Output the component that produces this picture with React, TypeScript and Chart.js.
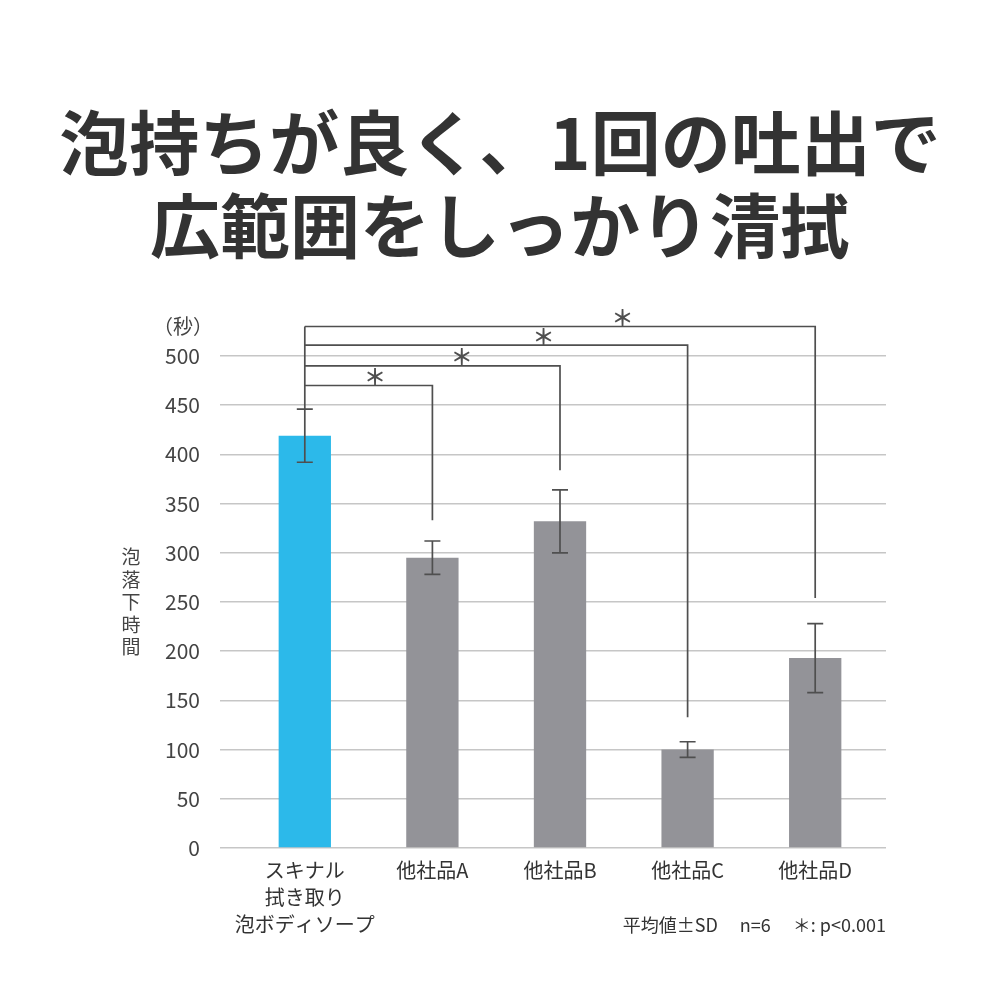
import React, { useEffect, useRef } from 'react';
import { Chart, registerables } from 'chart.js';

Chart.register(...registerables);

// ---- data ----
const categories: (string | string[])[] = [
  ['スキナル', '拭き取り', '泡ボディソープ'],
  '他社品A',
  '他社品B',
  '他社品C',
  '他社品D',
];
const means = [419, 295, 332, 100, 193];
const sds = [27, 17, 32, 8, 35];
const barColors = ['#2cb9ea', '#939398', '#939398', '#939398', '#939398'];
const yMin = 0;
const yMax = 500;
const yStep = 50;

// significance brackets: reference bar 0 vs targets
const compareTargets = [1, 2, 3, 4];
const bracketLevels = [470, 490, 511, 530];
const dropEnds = [333, 384, 133, 254];
const starPositions = [0.55, 1.23, 1.87, 2.49];
const starLabel = '＊';

const titleLines = ['泡持ちが良く、1回の吐出で', '広範囲をしっかり清拭'];
const yAxisTitle = ['泡', '落', '下', '時', '間'];
const unitLabel = '（秒）';
const footnote = '平均値±SD　 n=6　 ＊: p<0.001';

const FONT = '"Noto Sans CJK JP", "Noto Sans", sans-serif';

const annotationPlugin = {
  id: 'annotations',
  afterDatasetsDraw(chart: any) {
    const ctx = chart.ctx;
    const xs = chart.scales.x;
    const ys = chart.scales.y;
    ctx.save();
    ctx.strokeStyle = '#4f4f4f';
    ctx.lineWidth = 1.7;
    ctx.lineCap = 'butt';
    // error bars
    means.forEach((m, i) => {
      const cx = xs.getPixelForValue(i);
      const top = ys.getPixelForValue(m + sds[i]);
      const bot = ys.getPixelForValue(m - sds[i]);
      ctx.beginPath();
      ctx.moveTo(cx, top);
      ctx.lineTo(cx, bot);
      ctx.moveTo(cx - 8, top);
      ctx.lineTo(cx + 8, top);
      ctx.moveTo(cx - 8, bot);
      ctx.lineTo(cx + 8, bot);
      ctx.stroke();
    });
    // brackets
    const x0 = xs.getPixelForValue(0);
    const topLevel = Math.max(...bracketLevels);
    ctx.beginPath();
    ctx.moveTo(x0, ys.getPixelForValue(means[0] + sds[0]));
    ctx.lineTo(x0, ys.getPixelForValue(topLevel));
    compareTargets.forEach((t, k) => {
      const ly = ys.getPixelForValue(bracketLevels[k]);
      const tx = xs.getPixelForValue(t);
      ctx.moveTo(x0, ly);
      ctx.lineTo(tx, ly);
      ctx.lineTo(tx, ys.getPixelForValue(dropEnds[k]));
    });
    ctx.stroke();
    // stars
    ctx.fillStyle = '#4f4f4f';
    ctx.font = `bold 22px ${FONT}`;
    ctx.textAlign = 'center';
    ctx.textBaseline = 'middle';
    compareTargets.forEach((t, k) => {
      const sx = xs.getPixelForValue(starPositions[k]);
      const sy = ys.getPixelForValue(bracketLevels[k]) - 9;
      ctx.fillText(starLabel, sx, sy);
    });
    ctx.restore();
  },
};

function BarChart() {
  const ref = useRef<HTMLCanvasElement | null>(null);
  useEffect(() => {
    if (!ref.current) return;
    const gridColor = '#c6c6c6';
    const chart = new Chart(ref.current, {
      type: 'bar',
      data: {
        labels: categories as any,
        datasets: [
          {
            data: means,
            backgroundColor: barColors,
            borderWidth: 0,
            categoryPercentage: 1,
            barPercentage: 0.41,
          },
        ],
      },
      options: {
        animation: false,
        responsive: false,
        maintainAspectRatio: false,
        layout: { padding: { top: 356, left: 0, right: 0, bottom: 0 } },
        plugins: {
          legend: { display: false },
          tooltip: { enabled: false },
        },
        scales: {
          x: {
            grid: { display: false, drawTicks: false },
            border: { display: false },
            ticks: {
              color: '#333',
              font: { family: FONT, size: 20, lineHeight: 1.35 },
              padding: 9,
              maxRotation: 0,
              minRotation: 0,
              autoSkip: false,
            },
            afterFit: (s: any) => {
              s.height = 152;
            },
          },
          y: {
            min: yMin,
            max: yMax,
            ticks: {
              stepSize: yStep,
              color: '#444',
              font: { family: FONT, size: 21 },
              padding: 20,
            },
            grid: { color: gridColor, lineWidth: 1.5, tickLength: 21, drawTicks: true },
            border: { display: false },
            afterFit: (s: any) => {
              s.width = 241;
            },
          },
          y2: {
            position: 'right',
            min: yMin,
            max: yMax,
            ticks: { stepSize: yStep, display: false },
            grid: { drawOnChartArea: false, drawTicks: true, tickLength: 7, color: gridColor, lineWidth: 1.5 },
            border: { display: false },
            afterFit: (s: any) => {
              s.width = 121;
            },
          },
        },
      } as any,
      plugins: [annotationPlugin],
    });
    return () => chart.destroy();
  }, []);
  return <canvas ref={ref} width={1000} height={1000} style={{ position: 'absolute', left: 0, top: 0 }} />;
}

export default function App() {
  return (
    <div
      style={{
        position: 'fixed',
        left: 0,
        top: 0,
        width: 1000,
        height: 1000,
        background: '#fff',
        fontFamily: FONT,
        overflow: 'hidden',
      }}
    >
      <BarChart />
      <div
        style={{
          position: 'absolute',
          left: 0,
          top: 98,
          width: 1000,
          textAlign: 'center',
          fontSize: 70,
          fontWeight: 'bold',
          lineHeight: '83px',
          color: '#333',
          whiteSpace: 'nowrap',
        }}
      >
        {titleLines.map((l, i) => (
          <div key={i}>{l}</div>
        ))}
      </div>
      <div
        style={{
          position: 'absolute',
          left: 120,
          top: 545,
          width: 22,
          textAlign: 'center',
          fontSize: 19,
          lineHeight: '22.5px',
          color: '#444',
        }}
      >
        {yAxisTitle.map((c, i) => (
          <div key={i}>{c}</div>
        ))}
      </div>
      <div
        style={{
          position: 'absolute',
          left: 150,
          top: 312,
          width: 66,
          textAlign: 'center',
          fontSize: 20,
          lineHeight: '28px',
          color: '#444',
          whiteSpace: 'nowrap',
        }}
      >
        {unitLabel}
      </div>
      <div
        style={{
          position: 'absolute',
          right: 114,
          top: 910,
          fontSize: 18,
          lineHeight: '28px',
          color: '#333',
          whiteSpace: 'pre',
        }}
      >
        {footnote}
      </div>
    </div>
  );
}
